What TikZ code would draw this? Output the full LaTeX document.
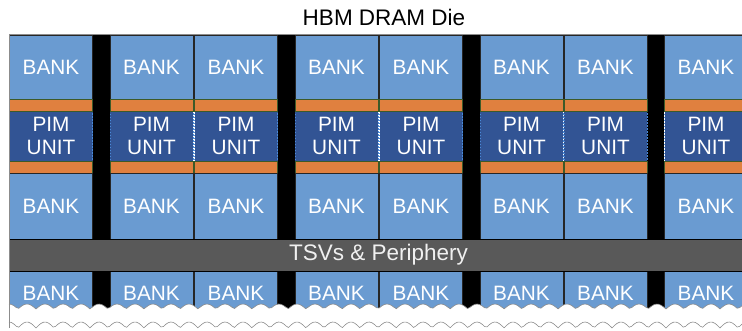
\documentclass[tikz,border=0pt]{standalone}
\usepackage{fontspec}
\setmainfont{Liberation Sans}
\definecolor{bankblue}{HTML}{6A9BD1}
\definecolor{pimblue}{HTML}{325494}
\definecolor{pimdash}{HTML}{4A8AD8}
\definecolor{bufor}{HTML}{E0803F}
\definecolor{bufedge}{HTML}{3D5A28}
\definecolor{tsvgray}{HTML}{595959}
\definecolor{edgegray}{HTML}{8C8C8C}
\begin{document}
\begin{tikzpicture}[x=1pt, y=-1pt,
  % Node styles
  bankbox/.style={rectangle, draw=black!85, fill=bankblue, text=white,
    minimum width=83pt, inner sep=0pt, outer sep=0pt,
    font=\fontsize{20.8}{23.5}\selectfont, line width=0.6pt},
  pimbox/.style={rectangle, draw=pimdash, fill=pimblue, text=white,
    minimum width=83pt, minimum height=50pt, inner sep=0pt, outer sep=0pt,
    align=center, font=\fontsize{20.8}{23.5}\selectfont,
    dash pattern=on 1.5pt off 1.5pt, line width=0.6pt},
  bufbar/.style={rectangle, draw=bufedge, fill=bufor, minimum width=83pt,
    minimum height=12pt, inner sep=0pt, outer sep=0pt, line width=0.8pt},
  gapbar/.style={rectangle, fill=black, minimum width=17pt,
    minimum height=280pt, inner sep=0pt, outer sep=0pt},
  tsvbar/.style={rectangle, draw=black, fill=tsvgray, text=black!6,
    minimum width=733pt, minimum height=32pt, inner sep=0pt,
    font=\fontsize{22.5}{26}\selectfont, line width=0.8pt},
  wave/.style={draw=edgegray, line width=0.6pt},
]
\useasboundingbox (0,0) rectangle (742,331);

% === Column positions ===
\def\colA{51}
\def\colB{151.5}
\def\colC{236}
\def\colD{336.5}
\def\colE{421}
\def\colF{521.5}
\def\colG{605.5}
\def\colH{706}

% === Title ===
\node[font=\fontsize{22.5}{26}\selectfont] (title) at (384,17) {HBM DRAM Die};

\begin{scope}
\clip (9,34) -- (742,34) -- plot[domain=742:9, samples=300] (\x,{309-5*abs(sin(10*\x))}) -- cycle;

% === Black gaps between bank groups ===
\node[gapbar, minimum width=18pt] (gap1) at (101,175) {};
\node[gapbar] (gap2) at (286.5,175) {};
\node[gapbar] (gap3) at (471.5,175) {};
\node[gapbar] (gap4) at (655.5,175) {};

% === Upper banks ===
\node[bankbox, minimum height=64pt] (bt1) at (\colA,67) {BANK};
\node[bankbox, minimum height=64pt] (bt2) at (\colB,67) {BANK};
\node[bankbox, minimum height=64pt] (bt3) at (\colC,67) {BANK};
\node[bankbox, minimum height=64pt] (bt4) at (\colD,67) {BANK};
\node[bankbox, minimum height=64pt] (bt5) at (\colE,67) {BANK};
\node[bankbox, minimum height=64pt] (bt6) at (\colF,67) {BANK};
\node[bankbox, minimum height=64pt] (bt7) at (\colG,67) {BANK};
\node[bankbox, minimum height=64pt] (bt8) at (\colH,67) {BANK};

% === PIM units, with buffers above and below ===
\node[pimbox] (p1) at (\colA,136) {PIM\\UNIT};
\node[pimbox] (p2) at (\colB,136) {PIM\\UNIT};
\node[pimbox] (p3) at (\colC,136) {PIM\\UNIT};
\node[pimbox] (p4) at (\colD,136) {PIM\\UNIT};
\node[pimbox] (p5) at (\colE,136) {PIM\\UNIT};
\node[pimbox] (p6) at (\colF,136) {PIM\\UNIT};
\node[pimbox] (p7) at (\colG,136) {PIM\\UNIT};
\node[pimbox] (p8) at (\colH,136) {PIM\\UNIT};

\node[bufbar] (ut1) at (\colA,105) {};
\node[bufbar] (ut2) at (\colB,105) {};
\node[bufbar] (ut3) at (\colC,105) {};
\node[bufbar] (ut4) at (\colD,105) {};
\node[bufbar] (ut5) at (\colE,105) {};
\node[bufbar] (ut6) at (\colF,105) {};
\node[bufbar] (ut7) at (\colG,105) {};
\node[bufbar] (ut8) at (\colH,105) {};

\node[bufbar] (ub1) at (\colA,167) {};
\node[bufbar] (ub2) at (\colB,167) {};
\node[bufbar] (ub3) at (\colC,167) {};
\node[bufbar] (ub4) at (\colD,167) {};
\node[bufbar] (ub5) at (\colE,167) {};
\node[bufbar] (ub6) at (\colF,167) {};
\node[bufbar] (ub7) at (\colG,167) {};
\node[bufbar] (ub8) at (\colH,167) {};

% === Middle banks ===
\node[bankbox, minimum height=66pt] (bm1) at (\colA,206) {BANK};
\node[bankbox, minimum height=66pt] (bm2) at (\colB,206) {BANK};
\node[bankbox, minimum height=66pt] (bm3) at (\colC,206) {BANK};
\node[bankbox, minimum height=66pt] (bm4) at (\colD,206) {BANK};
\node[bankbox, minimum height=66pt] (bm5) at (\colE,206) {BANK};
\node[bankbox, minimum height=66pt] (bm6) at (\colF,206) {BANK};
\node[bankbox, minimum height=66pt] (bm7) at (\colG,206) {BANK};
\node[bankbox, minimum height=66pt] (bm8) at (\colH,206) {BANK};

% === Lower banks (torn off) ===
\node[bankbox, minimum height=44pt] (bb1) at (\colA,293) {BANK};
\node[bankbox, minimum height=44pt] (bb2) at (\colB,293) {BANK};
\node[bankbox, minimum height=44pt] (bb3) at (\colC,293) {BANK};
\node[bankbox, minimum height=44pt] (bb4) at (\colD,293) {BANK};
\node[bankbox, minimum height=44pt] (bb5) at (\colE,293) {BANK};
\node[bankbox, minimum height=44pt] (bb6) at (\colF,293) {BANK};
\node[bankbox, minimum height=44pt] (bb7) at (\colG,293) {BANK};
\node[bankbox, minimum height=44pt] (bb8) at (\colH,293) {BANK};

% === TSV bar ===
\node[tsvbar] (tsv) at (375.5,255) {\hspace*{6pt}TSVs \& Periphery};
\end{scope}

% === Die outline and torn edges ===
\draw[wave] (9,328) -- (9,34) -- (742,34);
\draw[wave] plot[domain=9:742, samples=300] (\x,{309-5*abs(sin(10*\x))});
\draw[wave] plot[domain=9:742, samples=300] (\x,{328-6*abs(sin(10*\x))});

\end{tikzpicture}
\end{document}
